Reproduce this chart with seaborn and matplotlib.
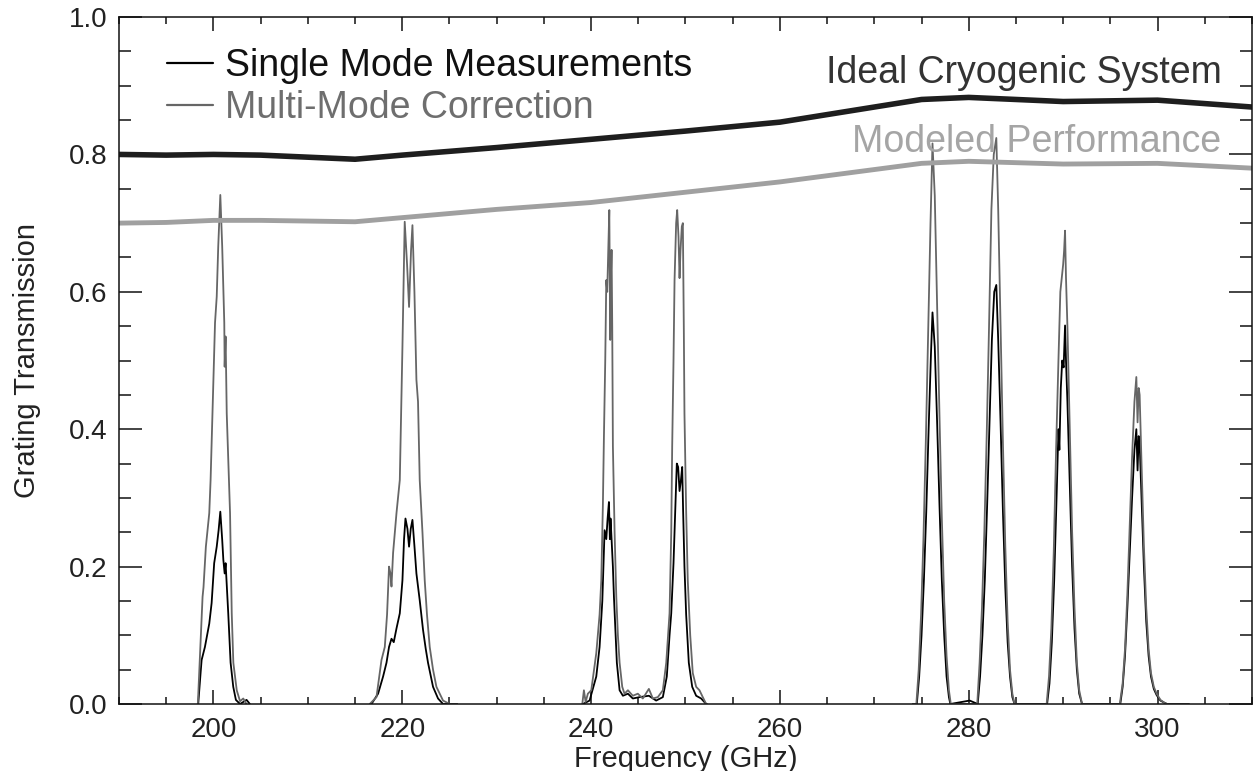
import numpy as np
import pandas as pd
import seaborn as sns
import matplotlib.pyplot as plt
from matplotlib.lines import Line2D
from matplotlib.ticker import MultipleLocator

sns.set_style("ticks")
plt.rcParams["font.family"] = ["Liberation Sans", "DejaVu Sans"]

# Envelope curves
ideal_freq = [190, 195, 200, 205, 215, 220, 230, 240, 250, 260, 275, 280, 290, 300, 310]
ideal_trans = [0.800, 0.799, 0.800, 0.799, 0.793, 0.799, 0.810, 0.822, 0.834, 0.847,
               0.880, 0.883, 0.877, 0.879, 0.869]
model_freq = [190, 195, 200, 205, 215, 220, 230, 240, 250, 260, 275, 280, 290, 300, 310]
model_trans = [0.700, 0.701, 0.704, 0.704, 0.702, 0.708, 0.720, 0.730, 0.745, 0.760,
               0.787, 0.790, 0.786, 0.787, 0.780]

# Single mode measurements (four measured bands)
single_freq = [
    198.39, 198.64, 198.75, 199.10, 199.56, 199.81, 200.08, 200.35, 200.55, 200.73,
    200.93, 201.05, 201.19, 201.29, 201.57, 201.82, 202.10, 202.38, 202.82, 203.51, 203.86,
    216.74, 217.44, 217.97, 218.33, 218.60, 218.86, 219.10, 219.39, 219.74, 220.02,
    220.19, 220.34, 220.55, 220.72, 220.90, 221.08, 221.29, 221.50, 221.85, 222.20,
    222.49, 222.73, 223.26, 223.79, 224.32, 225.80,
    239.14, 239.84, 240.55, 240.90, 241.19, 241.43, 241.61, 241.75, 241.89, 241.99,
    242.06, 242.17, 242.31, 242.42, 242.60, 242.73, 243.02, 243.37, 243.90, 244.42,
    245.13, 246.12, 246.89, 247.60, 248.02, 248.31, 248.49, 248.73, 248.91, 249.08,
    249.22, 249.37, 249.51, 249.65, 249.75, 249.89, 250.07, 250.35, 250.71, 251.13,
    251.66, 252.19,
    274.10, 274.50, 274.75, 275.00, 275.25, 275.50, 275.75, 276.00, 276.16, 276.40,
    276.65, 276.90, 277.15, 277.40, 277.65, 277.90, 278.05,
    280.10, 280.95, 281.20, 281.45, 281.70, 281.95, 282.20, 282.45, 282.70, 282.92,
    283.12, 283.37, 283.62, 283.87, 284.12, 284.37, 284.62, 284.85, 286.50,
    288.30, 288.55, 288.80, 289.05, 289.30, 289.50, 289.60, 289.75, 289.90, 290.05,
    290.20, 290.30, 290.45, 290.70, 290.95, 291.20, 291.45, 291.70, 292.00, 294.00,
    296.05, 296.30, 296.55, 296.80, 297.05, 297.30, 297.55, 297.75, 297.88, 298.00,
    298.10, 298.30, 298.55, 298.80, 299.05, 299.30, 299.60, 299.90, 300.30, 300.70,
    301.00, 303.30,
]
single_trans = [
    0.000, 0.045, 0.064, 0.083, 0.117, 0.147, 0.205, 0.229, 0.253, 0.280,
    0.239, 0.210, 0.190, 0.205, 0.132, 0.060, 0.025, 0.006, 0.000, 0.006, 0.000,
    0.000, 0.015, 0.040, 0.060, 0.083, 0.095, 0.090, 0.110, 0.132, 0.180,
    0.240, 0.270, 0.255, 0.229, 0.255, 0.268, 0.230, 0.190, 0.151, 0.108,
    0.080, 0.060, 0.025, 0.008, 0.000, 0.000,
    0.000, 0.005, 0.040, 0.083, 0.150, 0.253, 0.240, 0.270, 0.294, 0.240,
    0.270, 0.240, 0.200, 0.156, 0.100, 0.060, 0.020, 0.012, 0.015, 0.008,
    0.010, 0.012, 0.005, 0.010, 0.040, 0.100, 0.132, 0.205, 0.280, 0.350,
    0.345, 0.310, 0.325, 0.345, 0.280, 0.200, 0.130, 0.060, 0.025, 0.012,
    0.008, 0.000,
    0.000, 0.000, 0.040, 0.100, 0.180, 0.280, 0.400, 0.510, 0.570, 0.520,
    0.410, 0.290, 0.180, 0.100, 0.040, 0.010, 0.000,
    0.005, 0.000, 0.040, 0.100, 0.180, 0.290, 0.410, 0.530, 0.600, 0.610,
    0.530, 0.410, 0.280, 0.170, 0.090, 0.040, 0.010, 0.000, 0.000,
    0.000, 0.030, 0.090, 0.180, 0.300, 0.400, 0.370, 0.460, 0.500, 0.490,
    0.551, 0.500, 0.440, 0.320, 0.200, 0.110, 0.050, 0.015, 0.000, 0.000,
    0.000, 0.025, 0.070, 0.140, 0.220, 0.300, 0.370, 0.400, 0.340, 0.390,
    0.380, 0.300, 0.200, 0.120, 0.070, 0.040, 0.022, 0.013, 0.005, 0.002,
    0.000, 0.000,
]

# Multi-mode corrected transmission
multi_freq = [
    198.35, 198.85, 198.95, 199.20, 199.56, 199.70, 199.85, 200.17, 200.35, 200.51,
    200.73, 200.93, 201.15, 201.19, 201.29, 201.41, 201.76, 201.94, 202.11, 202.47,
    202.82, 203.16, 203.50,
    216.56, 217.27, 217.80, 218.15, 218.39, 218.60, 218.75, 218.86, 219.03, 219.39,
    219.74, 220.02, 220.26, 220.51, 220.72, 220.93, 221.08, 221.29, 221.50, 221.67,
    221.85, 222.14, 222.38, 222.62, 222.91, 223.26, 223.62, 224.32, 225.03, 225.80,
    239.07, 239.24, 239.42, 239.66, 240.02, 240.55, 240.90, 241.08, 241.25, 241.36,
    241.50, 241.61, 241.71, 241.82, 241.93, 241.99, 242.03, 242.10, 242.17, 242.24,
    242.31, 242.49, 242.67, 242.84, 243.02, 243.30, 243.54, 243.90, 244.42, 244.95,
    245.48, 246.12, 246.54, 247.07, 247.60, 247.96, 248.31, 248.49, 248.59, 248.73,
    248.84, 249.01, 249.12, 249.26, 249.37, 249.47, 249.61, 249.72, 249.82, 249.89,
    250.07, 250.24, 250.50, 250.77, 251.13, 251.48, 251.83, 252.19, 252.30,
    274.10, 274.45, 274.70, 274.95, 275.20, 275.45, 275.70, 275.95, 276.16, 276.40,
    276.65, 276.90, 277.15, 277.40, 277.65, 277.90, 278.10,
    280.90, 281.15, 281.40, 281.65, 281.90, 282.15, 282.40, 282.65, 282.92, 283.12,
    283.37, 283.62, 283.87, 284.12, 284.37, 284.62, 284.85, 286.50,
    288.25, 288.50, 288.75, 289.00, 289.25, 289.50, 289.70, 289.85, 290.00, 290.10,
    290.20, 290.30, 290.45, 290.70, 290.95, 291.20, 291.45, 291.70, 292.00, 294.00,
    296.00, 296.30, 296.55, 296.80, 297.05, 297.30, 297.55, 297.75, 297.88, 298.00,
    298.10, 298.30, 298.55, 298.80, 299.05, 299.30, 299.60, 299.90, 300.30, 300.70,
    301.00, 303.30,
]
multi_trans = [
    0.000, 0.156, 0.170, 0.229, 0.278, 0.326, 0.399, 0.555, 0.593, 0.666,
    0.741, 0.666, 0.555, 0.491, 0.535, 0.423, 0.278, 0.132, 0.060, 0.020,
    0.004, 0.008, 0.000,
    0.000, 0.010, 0.064, 0.083, 0.130, 0.200, 0.190, 0.171, 0.220, 0.278,
    0.326, 0.520, 0.702, 0.640, 0.578, 0.660, 0.697, 0.600, 0.472, 0.440,
    0.326, 0.250, 0.180, 0.130, 0.083, 0.050, 0.025, 0.005, 0.000, 0.000,
    0.000, 0.020, 0.003, 0.015, 0.020, 0.074, 0.130, 0.180, 0.290, 0.389,
    0.500, 0.617, 0.600, 0.660, 0.719, 0.600, 0.530, 0.620, 0.661, 0.550,
    0.375, 0.250, 0.156, 0.100, 0.060, 0.025, 0.015, 0.020, 0.012, 0.015,
    0.008, 0.022, 0.008, 0.010, 0.020, 0.060, 0.132, 0.250, 0.375, 0.500,
    0.617, 0.700, 0.719, 0.680, 0.620, 0.660, 0.695, 0.700, 0.550, 0.423,
    0.280, 0.180, 0.100, 0.045, 0.025, 0.020, 0.010, 0.000, 0.000,
    0.000, 0.000, 0.050, 0.130, 0.240, 0.380, 0.540, 0.700, 0.816, 0.740,
    0.580, 0.420, 0.270, 0.150, 0.070, 0.020, 0.000,
    0.000, 0.060, 0.140, 0.250, 0.390, 0.550, 0.720, 0.800, 0.824, 0.720,
    0.550, 0.380, 0.230, 0.120, 0.050, 0.015, 0.000, 0.000,
    0.000, 0.040, 0.110, 0.220, 0.370, 0.500, 0.600, 0.620, 0.640, 0.660,
    0.689, 0.620, 0.550, 0.400, 0.250, 0.140, 0.060, 0.020, 0.000, 0.000,
    0.000, 0.030, 0.080, 0.160, 0.260, 0.360, 0.440, 0.476, 0.410, 0.460,
    0.450, 0.350, 0.230, 0.140, 0.080, 0.045, 0.025, 0.015, 0.006, 0.002,
    0.000, 0.000,
]


def to_frame(freq, trans):
    df = pd.DataFrame({"freq": freq, "trans": trans})
    # separate measured bands so they are not joined across the gaps
    df["band"] = np.concatenate([[0], np.cumsum(np.diff(df["freq"]) > 6)])
    return df


single_df = to_frame(single_freq, single_trans)
multi_df = to_frame(multi_freq, multi_trans)

black = "#000000"
mgrey = "#666666"

fig = plt.figure(figsize=(12.54, 7.71), dpi=100)
ax = fig.add_axes([0.0949, 0.0869, 0.9035, 0.891])

sns.lineplot(data=single_df, x="freq", y="trans", units="band", estimator=None,
             color=black, lw=1.3, legend=False, ax=ax)
sns.lineplot(data=multi_df, x="freq", y="trans", units="band", estimator=None,
             color=mgrey, lw=1.3, legend=False, ax=ax)
sns.lineplot(x=ideal_freq, y=ideal_trans, color="#1e1e1e", lw=4.0, ax=ax)
sns.lineplot(x=model_freq, y=model_trans, color="#a0a0a0", lw=3.5, ax=ax)

ax.text(306.8, 0.904, "Ideal Cryogenic System", ha="right", va="baseline",
        fontsize=27, color="#333333")
ax.text(306.7, 0.804, "Modeled Performance", ha="right", va="baseline",
        fontsize=27, color="#a5a5a5")

handles = [Line2D([], [], color=black, lw=1.6), Line2D([], [], color=mgrey, lw=1.6)]
leg = ax.legend(handles, ["Single Mode Measurements", "Multi-Mode Correction"],
                loc="upper left", bbox_to_anchor=(0.0424, 0.955), frameon=False,
                fontsize=27, handlelength=1.23, handletextpad=0.32,
                labelspacing=0.17, borderpad=0, borderaxespad=0)
leg.get_texts()[0].set_color("#111111")
leg.get_texts()[1].set_color("#6e6e6e")

ax.set_xlim(190, 310)
ax.set_ylim(0, 1.0)
ax.xaxis.set_major_locator(MultipleLocator(20))
ax.xaxis.set_minor_locator(MultipleLocator(5))
ax.yaxis.set_major_locator(MultipleLocator(0.2))
ax.yaxis.set_minor_locator(MultipleLocator(0.05))
ax.tick_params(axis="both", which="both", direction="in", top=True, right=True,
               width=1.1, color="#111111", labelsize=20, labelcolor="#222222")
ax.tick_params(axis="x", which="major", length=10, pad=9)
ax.tick_params(axis="x", which="minor", length=5)
ax.tick_params(axis="y", which="major", length=16.5, pad=8.6)
ax.tick_params(axis="y", which="minor", length=8.5)
for s in ax.spines.values():
    s.set_linewidth(1.1)
    s.set_color("#111111")

ax.set_xlabel("Frequency (GHz)", fontsize=21, color="#222222", labelpad=2)
ax.set_ylabel("Grating Transmission", fontsize=21, color="#222222", labelpad=20)

fig.savefig("out.png", dpi=100)
